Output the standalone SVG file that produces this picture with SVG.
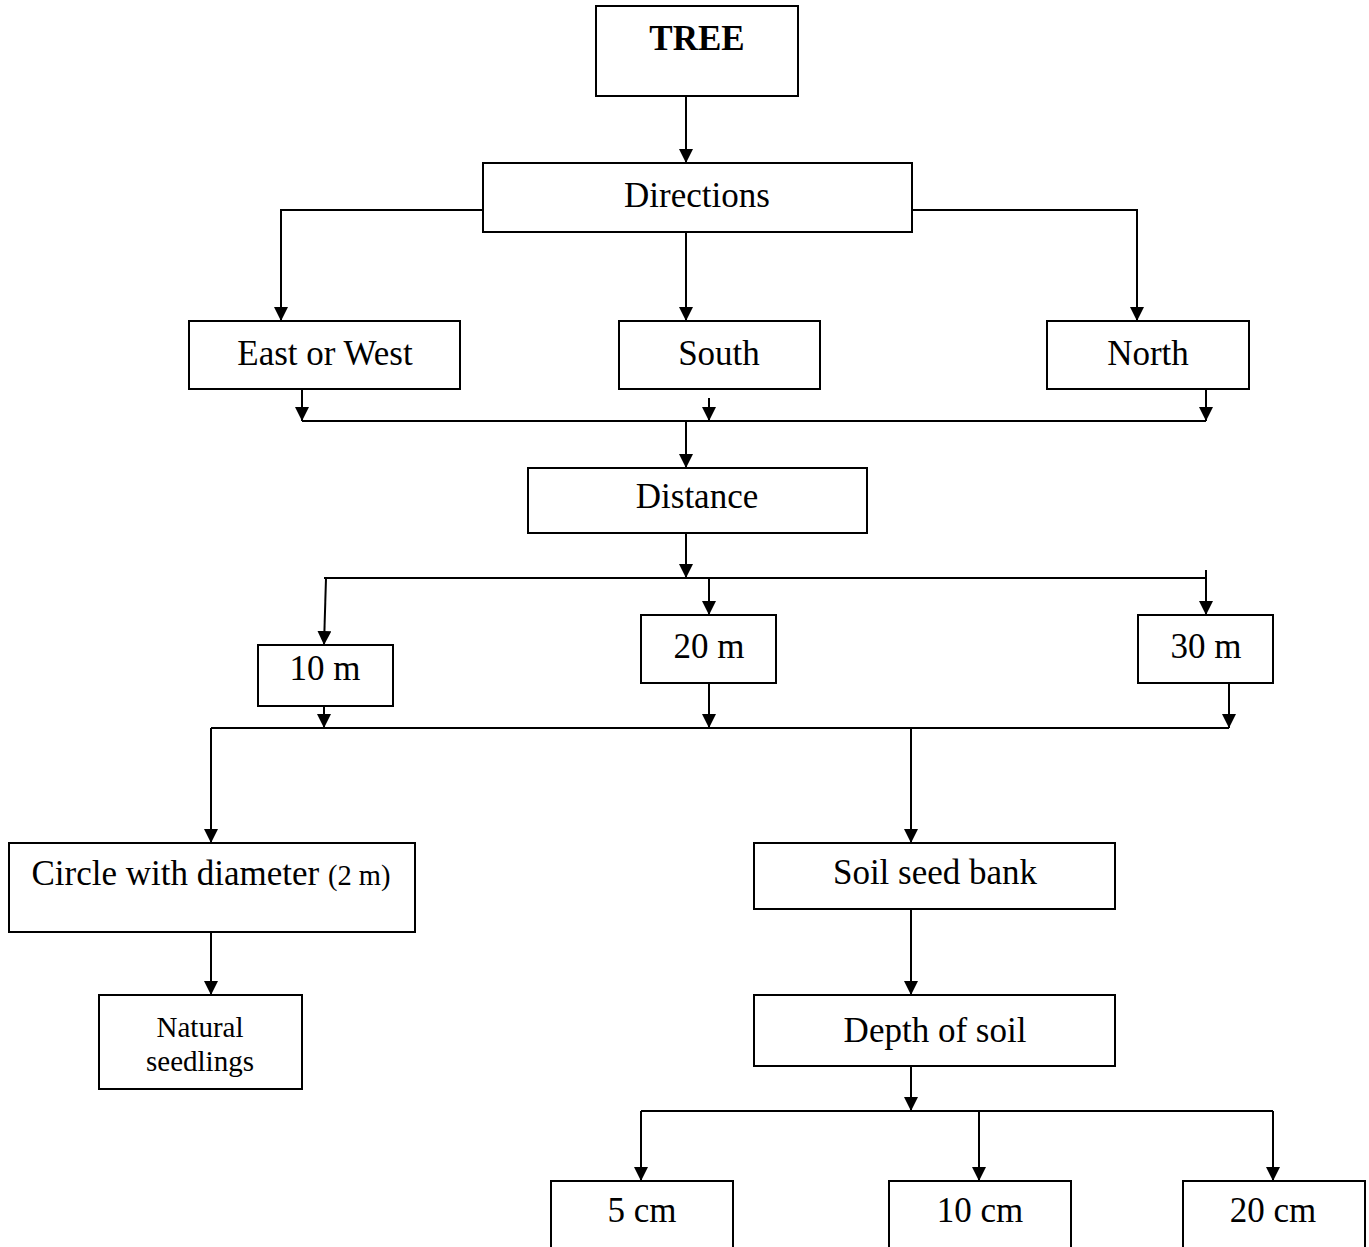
<svg xmlns="http://www.w3.org/2000/svg" width="1369" height="1247" viewBox="0 0 1369 1247">
<defs>
<marker id="ah" markerUnits="userSpaceOnUse" markerWidth="14" markerHeight="16" refX="14" refY="7" orient="auto">
<path d="M0,0 L14,7 L0,14 Z" fill="#000"/>
</marker>
<style>
.box{fill:#fff;stroke:#000;stroke-width:2}
.t{font-family:"Liberation Serif","Times New Roman",serif;font-size:35px;fill:#000;text-anchor:middle}
.s{font-size:28.5px}
.n{font-size:29px}
.b{font-weight:bold}
.c{fill:none;stroke:#000;stroke-width:2}
.a{fill:none;stroke:#000;stroke-width:2;marker-end:url(#ah)}
</style>
</defs>
<rect width="1369" height="1247" fill="#fff"/>
<g id="connectors">
<path class="a" d="M686,96 V163"/>
<path class="a" d="M483,210 H281 V321"/>
<path class="a" d="M912,210 H1137 V321"/>
<path class="a" d="M686,232 V321"/>
<path class="a" d="M302,389 V421"/>
<path class="a" d="M709,398 V421"/>
<path class="a" d="M1206,389 V421"/>
<path class="c" d="M302,421 H1206"/>
<path class="a" d="M686,421 V468"/>
<path class="a" d="M686,533 V578"/>
<path class="c" d="M324,578 H1206"/>
<path class="a" d="M326,578 L324,645"/>
<path class="a" d="M709,578 V615"/>
<path class="a" d="M1206,570 V615"/>
<path class="a" d="M324,706 V728"/>
<path class="a" d="M709,683 V728"/>
<path class="a" d="M1229,683 V728"/>
<path class="c" d="M211,728 H1229"/>
<path class="a" d="M211,728 V843"/>
<path class="a" d="M911,728 V843"/>
<path class="a" d="M211,932 V995"/>
<path class="a" d="M911,909 V995"/>
<path class="a" d="M911,1066 V1111"/>
<path class="c" d="M641,1111 H1273"/>
<path class="a" d="M641,1111 V1181"/>
<path class="a" d="M979,1111 V1181"/>
<path class="a" d="M1273,1111 V1181"/>
</g>
<g id="tree"><rect class="box" x="596" y="6" width="202" height="90"/><text class="t b" x="697" y="50">TREE</text></g>
<g id="directions"><rect class="box" x="483" y="163" width="429" height="69"/><text class="t" x="697" y="207">Directions</text></g>
<g id="eastwest"><rect class="box" x="189" y="321" width="271" height="68"/><text class="t" x="325" y="365">East or West</text></g>
<g id="south"><rect class="box" x="619" y="321" width="201" height="68"/><text class="t" x="719" y="365">South</text></g>
<g id="north"><rect class="box" x="1047" y="321" width="202" height="68"/><text class="t" x="1148" y="365">North</text></g>
<g id="distance"><rect class="box" x="528" y="468" width="339" height="65"/><text class="t" x="697" y="508">Distance</text></g>
<g id="m10"><rect class="box" x="258" y="645" width="135" height="61"/><text class="t" x="325" y="680">10 m</text></g>
<g id="m20"><rect class="box" x="641" y="615" width="135" height="68"/><text class="t" x="709" y="658">20 m</text></g>
<g id="m30"><rect class="box" x="1138" y="615" width="135" height="68"/><text class="t" x="1206" y="658">30 m</text></g>
<g id="circle"><rect class="box" x="9" y="843" width="406" height="89"/><text class="t" x="211" y="885">Circle with diameter <tspan class="s">(2 m)</tspan></text></g>
<g id="natural"><rect class="box" x="99" y="995" width="203" height="94"/><text class="t n" x="200" y="1037">Natural</text><text class="t n" x="200" y="1071">seedlings</text></g>
<g id="soilseed"><rect class="box" x="754" y="843" width="361" height="66"/><text class="t" x="935" y="884">Soil seed bank</text></g>
<g id="depth"><rect class="box" x="754" y="995" width="361" height="71"/><text class="t" x="935" y="1042">Depth of soil</text></g>
<g id="cm5"><rect class="box" x="551" y="1181" width="182" height="80"/><text class="t" x="642" y="1222">5 cm</text></g>
<g id="cm10"><rect class="box" x="889" y="1181" width="182" height="80"/><text class="t" x="980" y="1222">10 cm</text></g>
<g id="cm20"><rect class="box" x="1183" y="1181" width="182" height="80"/><text class="t" x="1273" y="1222">20 cm</text></g>
</svg>
